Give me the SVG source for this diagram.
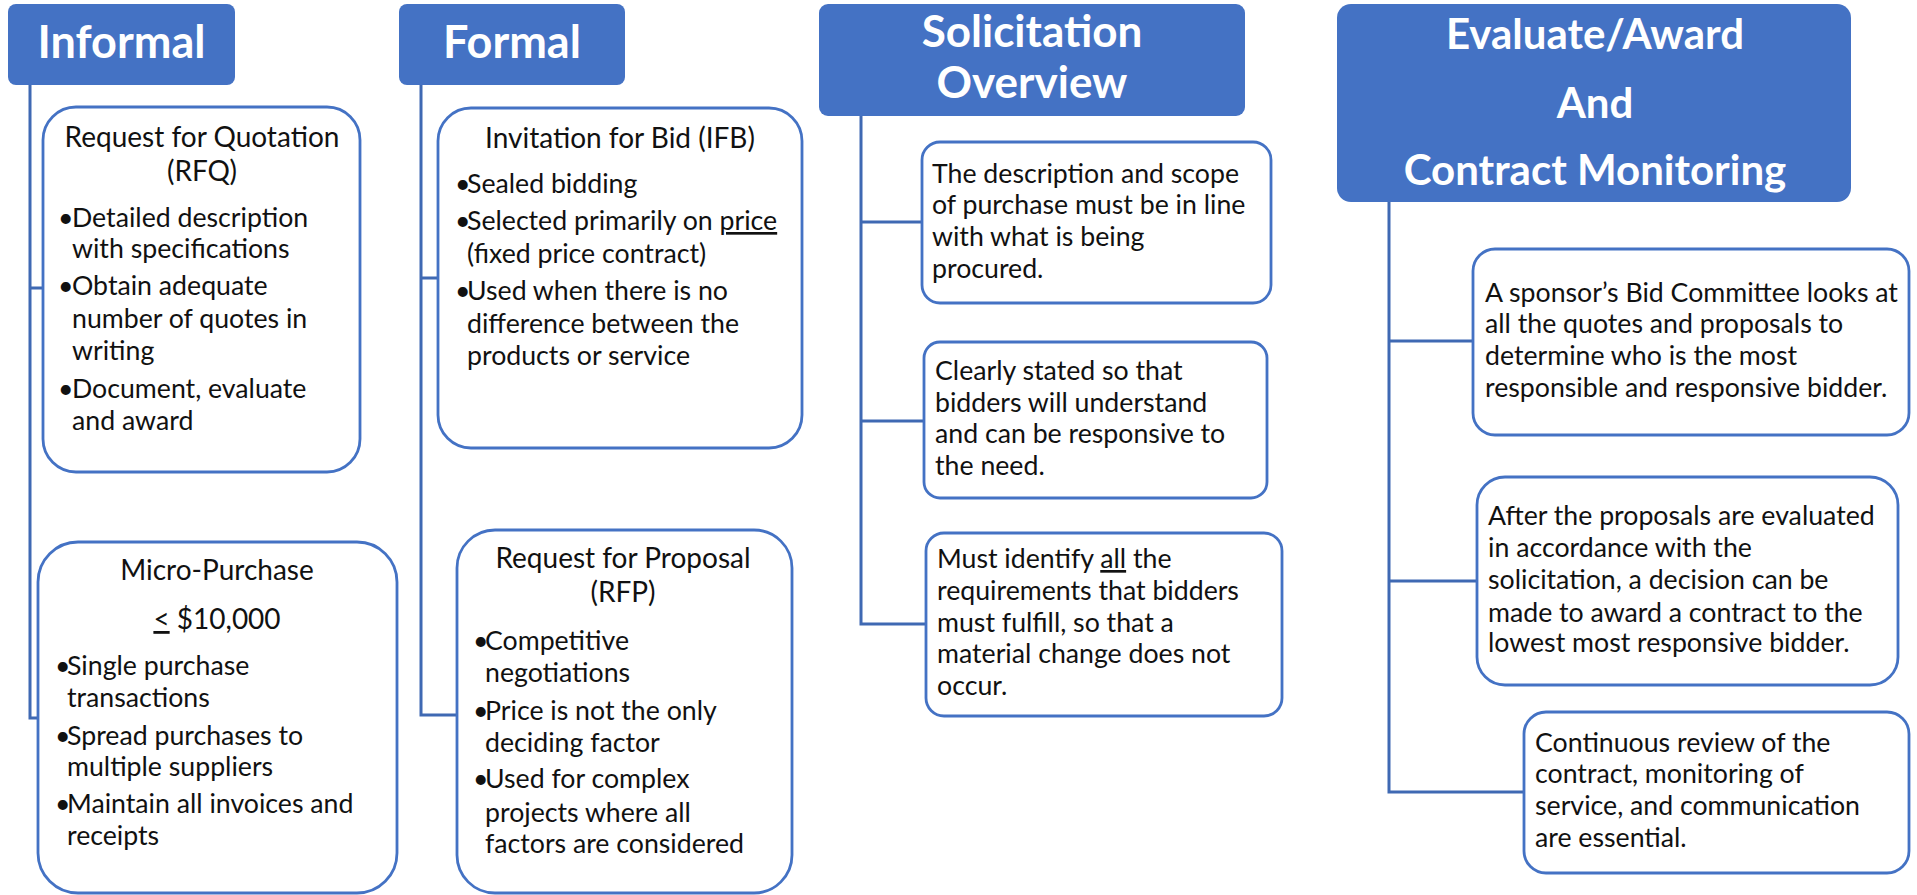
<svg xmlns="http://www.w3.org/2000/svg" width="1917" height="895" viewBox="0 0 1917 895">
<style>
.hdr{fill:#4472C4}
.box{fill:#fff;stroke:#4472C4;stroke-width:2.8}
.con{fill:none;stroke:#3F69B3;stroke-width:3}
.ht{font-family:Lato,"Open Sans",sans-serif;font-weight:bold;fill:#fff;text-anchor:middle}
.t{font-family:Lato,"Open Sans",sans-serif;font-size:26.7px;fill:#111}
.ti{font-family:Lato,"Open Sans",sans-serif;font-size:28px;fill:#111;text-anchor:middle}
</style>
<rect width="1917" height="895" fill="#fff"/>
<g id="connectors">
<path class="con" d="M30,85 V718 H38 M30,288 H43"/>
<path class="con" d="M421,85 V715 H457 M421,278 H438"/>
<path class="con" d="M861,116 V624 H926 M861,222 H922 M861,421 H924"/>
<path class="con" d="M1389,202 V792 H1524 M1389,341 H1473 M1389,581 H1477"/>
</g>
<g id="informal">
<rect class="hdr" x="8" y="4" width="227" height="81" rx="8"/>
<text class="ht" x="121.5" y="58" font-size="45">Informal</text>
</g>
<g id="formal">
<rect class="hdr" x="399" y="4" width="226" height="81" rx="8"/>
<text class="ht" x="512" y="58" font-size="45">Formal</text>
</g>
<g id="solicitation">
<rect class="hdr" x="819" y="4" width="426" height="112" rx="9"/>
<text class="ht" x="1032" y="47" font-size="44">Solicitation</text>
<text class="ht" x="1032" y="98" font-size="44">Overview</text>
</g>
<g id="evaluate">
<rect class="hdr" x="1337" y="4" width="514" height="198" rx="14"/>
<text class="ht" x="1595" y="49" font-size="42">Evaluate/Award</text>
<text class="ht" x="1595" y="118" font-size="42">And</text>
<text class="ht" x="1595" y="185" font-size="42">Contract Monitoring</text>
</g>
<g id="rfq">
<rect class="box" x="43" y="107" width="317" height="365" rx="33"/>
<text class="ti" x="202" y="147">Request for Quotation</text>
<text class="ti" x="202" y="181">(RFQ)</text>
<text class="t" x="58" y="227">•</text><text class="t" x="72" y="227">Detailed description</text>
<text class="t" x="72" y="258">with specifications</text>
<text class="t" x="58" y="295">•</text><text class="t" x="72" y="295">Obtain adequate</text>
<text class="t" x="72" y="328">number of quotes in</text>
<text class="t" x="72" y="360">writing</text>
<text class="t" x="58" y="398">•</text><text class="t" x="72" y="398">Document, evaluate</text>
<text class="t" x="72" y="430">and award</text>
</g>
<g id="micro">
<rect class="box" x="38" y="542" width="359" height="351" rx="40"/>
<text class="ti" x="217" y="580">Micro-Purchase</text>
<text class="ti" x="217" y="629" font-size="30"><tspan text-decoration="underline">&lt;</tspan> $10,000</text>
<text class="t" x="55" y="675">•</text><text class="t" x="67" y="675">Single purchase</text>
<text class="t" x="67" y="707">transactions</text>
<text class="t" x="55" y="745">•</text><text class="t" x="67" y="745">Spread purchases to</text>
<text class="t" x="67" y="776">multiple suppliers</text>
<text class="t" x="55" y="813">•</text><text class="t" x="67" y="813">Maintain all invoices and</text>
<text class="t" x="67" y="845">receipts</text>
</g>
<g id="ifb">
<rect class="box" x="438" y="108" width="364" height="340" rx="33"/>
<text class="ti" x="620" y="148">Invitation for Bid (IFB)</text>
<text class="t" x="455" y="193">•</text><text class="t" x="467" y="193">Sealed bidding</text>
<text class="t" x="455" y="230">•</text><text class="t" x="467" y="230">Selected primarily on <tspan text-decoration="underline">price</tspan></text>
<text class="t" x="467" y="263">(fixed price contract)</text>
<text class="t" x="455" y="300">•</text><text class="t" x="467" y="300">Used when there is no</text>
<text class="t" x="467" y="333">difference between the</text>
<text class="t" x="467" y="365">products or service</text>
</g>
<g id="rfp">
<rect class="box" x="457" y="530" width="335" height="363" rx="38"/>
<text class="ti" x="623" y="568">Request for Proposal</text>
<text class="ti" x="623" y="602">(RFP)</text>
<text class="t" x="473" y="650">•</text><text class="t" x="485" y="650">Competitive</text>
<text class="t" x="485" y="682">negotiations</text>
<text class="t" x="473" y="720">•</text><text class="t" x="485" y="720">Price is not the only</text>
<text class="t" x="485" y="752">deciding factor</text>
<text class="t" x="473" y="788">•</text><text class="t" x="485" y="788">Used for complex</text>
<text class="t" x="485" y="822">projects where all</text>
<text class="t" x="485" y="853">factors are considered</text>
</g>
<g id="sol1">
<rect class="box" x="922" y="142" width="349" height="161" rx="18"/>
<text class="t" x="932" y="183">The description and scope</text>
<text class="t" x="932" y="214">of purchase must be in line</text>
<text class="t" x="932" y="246">with what is being</text>
<text class="t" x="932" y="278">procured.</text>
</g>
<g id="sol2">
<rect class="box" x="924" y="342" width="343" height="156" rx="16"/>
<text class="t" x="935" y="380">Clearly stated so that</text>
<text class="t" x="935" y="412">bidders will understand</text>
<text class="t" x="935" y="443">and can be responsive to</text>
<text class="t" x="935" y="475">the need.</text>
</g>
<g id="sol3">
<rect class="box" x="926" y="533" width="356" height="183" rx="18"/>
<text class="t" x="937" y="568">Must identify <tspan text-decoration="underline">all</tspan> the</text>
<text class="t" x="937" y="600">requirements that bidders</text>
<text class="t" x="937" y="632">must fulfill, so that a</text>
<text class="t" x="937" y="663">material change does not</text>
<text class="t" x="937" y="695">occur.</text>
</g>
<g id="eval1">
<rect class="box" x="1473" y="249" width="436" height="186" rx="22"/>
<text class="t" x="1485" y="302">A sponsor’s Bid Committee looks at</text>
<text class="t" x="1485" y="333">all the quotes and proposals to</text>
<text class="t" x="1485" y="365">determine who is the most</text>
<text class="t" x="1485" y="397">responsible and responsive bidder.</text>
</g>
<g id="eval2">
<rect class="box" x="1477" y="477" width="421" height="208" rx="28"/>
<text class="t" x="1488" y="525">After the proposals are evaluated</text>
<text class="t" x="1488" y="557">in accordance with the</text>
<text class="t" x="1488" y="589">solicitation, a decision can be</text>
<text class="t" x="1488" y="622">made to award a contract to the</text>
<text class="t" x="1488" y="652">lowest most responsive bidder.</text>
</g>
<g id="eval3">
<rect class="box" x="1524" y="712" width="385" height="161" rx="22"/>
<text class="t" x="1535" y="752">Continuous review of the</text>
<text class="t" x="1535" y="783">contract, monitoring of</text>
<text class="t" x="1535" y="815">service, and communication</text>
<text class="t" x="1535" y="847">are essential.</text>
</g>
</svg>
